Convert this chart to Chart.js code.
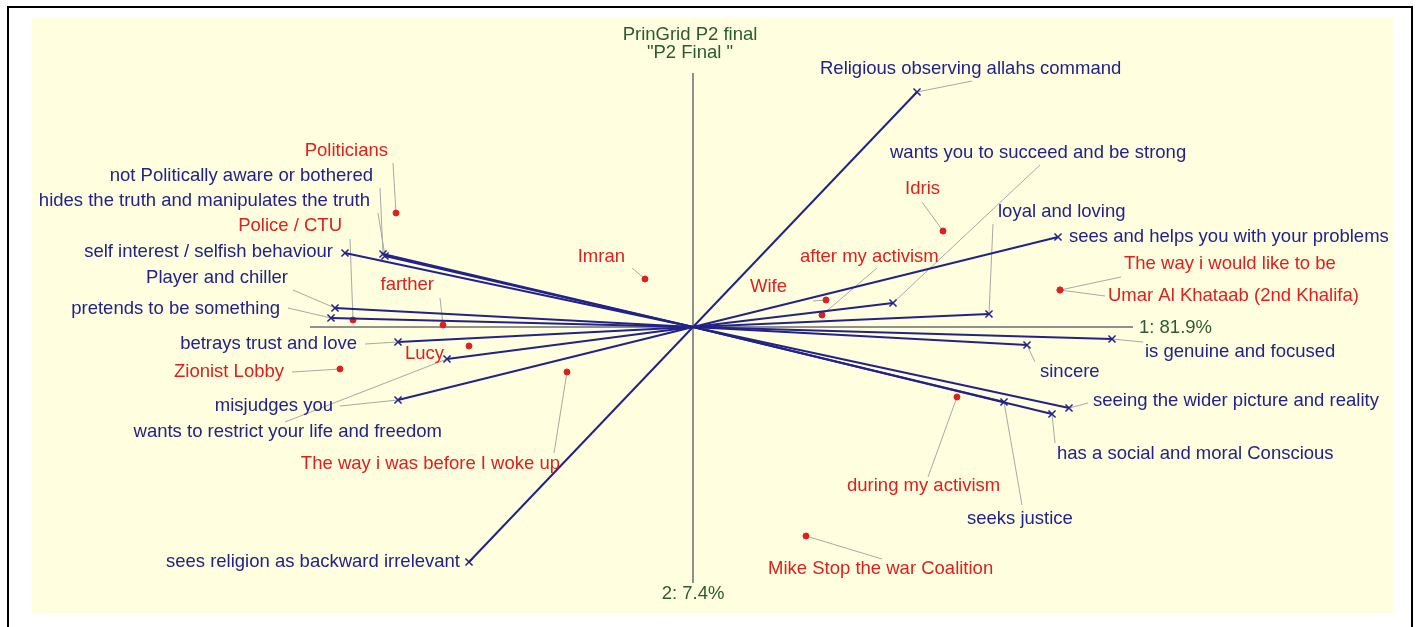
<!DOCTYPE html>
<html>
<head>
<meta charset="utf-8">
<script src="https://cdn.jsdelivr.net/npm/chart.js@4.4.1/dist/chart.umd.min.js"></script>
<style>
    html, body { margin: 0; padding: 0; background: #ffffff; }
    #wrap { width: 1421px; height: 627px; }
</style>
</head>
<body>
<div id="wrap"><canvas id="pringrid" width="1421" height="627"></canvas></div>
<script>
// construct poles (component 1, component 2 scores)
const leftPoles = ['sees religion as backward irrelevant', 'misjudges you', 'wants to restrict your life and freedom',
    'betrays trust and love', 'pretends to be something', 'Player and chiller',
    'not Politically aware or bothered', 'hides the truth and manipulates the truth', 'self interest / selfish behaviour'];
const leftX = [-2.24, -2.95, -2.46, -2.95, -3.62, -3.58, -3.10, -3.08, -3.48];
const leftY = [-2.35, -0.73, -0.32, -0.15, 0.09, 0.19, 0.73, 0.71, 0.74];

const rightPoles = ['Religious observing allahs command', 'sees and helps you with your problems', 'wants you to succeed and be strong',
    'loyal and loving', 'is genuine and focused', 'sincere',
    'seeing the wider picture and reality', 'has a social and moral Conscious', 'seeks justice'];
const rightX = [2.24, 3.65, 2.00, 2.96, 4.19, 3.34, 3.76, 3.59, 3.11];
const rightY = [2.35, 0.90, 0.24, 0.13, -0.12, -0.18, -0.81, -0.87, -0.75];

// elements
const elements = ['Politicians', 'Police / CTU', 'farther', 'Lucy', 'Zionist Lobby', 'Imran',
    'The way i was before I woke up', 'Wife', 'after my activism', 'Idris',
    'The way i would like to be', 'Umar Al Khataab (2nd Khalifa)', 'during my activism', 'Mike Stop the war Coalition'];
const elemX = [-2.97, -3.40, -2.50, -2.24, -3.53, -0.48, -1.26, 1.33, 1.29, 2.50, 3.67, 3.67, 2.64, 1.13];
const elemY = [1.14, 0.07, 0.02, -0.19, -0.42, 0.48, -0.45, 0.27, 0.12, 0.96, 0.37, 0.37, -0.70, -2.09];

// axes
const axisLabels = ['1: 81.9%', '2: 7.4%'];
const titleLines = ['PrinGrid P2 final', '"P2 Final "'];

// label placement: [text dx, text dy, align, leader dx, leader dy] in px from the point
const labelLayout = {
    'Religious observing allahs command': [-97, -25, 'left', 55, -11],
    'sees and helps you with your problems': [11, -2, 'left', null],
    'wants you to succeed and be strong': [-3, -152, 'left', 147, -138],
    'loyal and loving': [9, -104, 'left', 4, -90],
    'is genuine and focused': [33, 11, 'left', 31, 3],
    'sincere': [13, 25, 'left', 8, 17],
    'seeing the wider picture and reality': [24, -9, 'left', 19, -5],
    'has a social and moral Conscious': [5, 38, 'left', 3, 29],
    'seeks justice': [-37, 115, 'left', 18, 103],
    'sees religion as backward irrelevant': [-9, -2, 'right', null],
    'misjudges you': [-65, 4, 'right', -58, 6],
    'wants to restrict your life and freedom': [-5, 71, 'right', -162, 63],
    'betrays trust and love': [-41, 0, 'right', -33, 2],
    'pretends to be something': [-51, -11, 'right', -43, -10],
    'Player and chiller': [-47, -32, 'right', -42, -18],
    'not Politically aware or bothered': [-10, -80, 'right', -3, -66],
    'hides the truth and manipulates the truth': [-15, -57, 'right', -7, -43],
    'self interest / selfish behaviour': [-12, -3, 'right', null],
    'Politicians': [-8, -64, 'right', -3, -50],
    'Police / CTU': [-11, -96, 'right', -3, -81],
    'farther': [-9, -42, 'right', -3, -27],
    'Lucy': [-25, 6, 'right', null],
    'Zionist Lobby': [-56, 1, 'right', -48, 3],
    'Imran': [-20, -24, 'right', -13, -11],
    'The way i was before I woke up': [-7, 90, 'right', -13, 81],
    'Wife': [-39, -15, 'right', -13, 1],
    'after my activism': [-22, -60, 'left', 55, -47],
    'Idris': [-3, -44, 'right', -21, -29],
    'The way i would like to be': [64, -28, 'left', 61, -13],
    'Umar Al Khataab (2nd Khalifa)': [48, 4, 'left', 45, 6],
    'during my activism': [-110, 87, 'left', -29, 80],
    'Mike Stop the war Coalition': [-38, 31, 'left', 76, 23]
};

const NAVY = '#22228a';
const RED = '#dd2020';
const FONT = '18.5px "Liberation Sans", Arial, sans-serif';

let datasets = [];
for (let i = 0; i < leftPoles.length; i++) {
    datasets.push({
        label: leftPoles[i] + ' - ' + rightPoles[i],
        data: [{x: leftX[i], y: leftY[i]}, {x: 0, y: 0}, {x: rightX[i], y: rightY[i]}],
        showLine: true,
        borderColor: NAVY,
        borderWidth: 2,
        pointStyle: 'crossRot',
        pointRadius: [5, 0, 5],
        pointBorderColor: NAVY,
        pointBorderWidth: 1.5
    });
}
datasets.push({
    label: 'elements',
    data: elements.map((e, i) => ({x: elemX[i], y: elemY[i]})),
    pointStyle: 'circle',
    pointRadius: 3,
    backgroundColor: RED,
    borderColor: RED
});

const gridPlugin = {
    id: 'pringrid',
    beforeDraw(chart) {
        const c = chart.ctx, a = chart.chartArea;
        c.save();
        c.fillStyle = '#ffffff';
        c.fillRect(0, 0, chart.width, chart.height);
        c.strokeStyle = '#000000';
        c.lineWidth = 2;
        c.strokeRect(8, 7, 1404, 700);
        c.fillStyle = '#ffffdf';
        c.fillRect(a.left, a.top, a.right - a.left, a.bottom - a.top);
        c.restore();
    },
    beforeDatasetsDraw(chart) {
        const c = chart.ctx, sx = chart.scales.x, sy = chart.scales.y;
        c.save();
        // axes
        c.strokeStyle = '#909090';
        c.lineWidth = 2;
        c.beginPath();
        c.moveTo(sx.getPixelForValue(-3.83), sy.getPixelForValue(0));
        c.lineTo(sx.getPixelForValue(4.40), sy.getPixelForValue(0));
        c.moveTo(sx.getPixelForValue(0), sy.getPixelForValue(2.54));
        c.lineTo(sx.getPixelForValue(0), sy.getPixelForValue(-2.56));
        c.stroke();
        // leader lines
        c.strokeStyle = '#a8a8a8';
        c.lineWidth = 1;
        const leader = (name, px, py) => {
            const l = labelLayout[name];
            if (!l || l[3] === null) return;
            c.beginPath();
            c.moveTo(px, py);
            c.lineTo(px + l[3], py + l[4]);
            c.stroke();
        };
        leftPoles.forEach((n, i) => leader(n, sx.getPixelForValue(leftX[i]), sy.getPixelForValue(leftY[i])));
        rightPoles.forEach((n, i) => leader(n, sx.getPixelForValue(rightX[i]), sy.getPixelForValue(rightY[i])));
        elements.forEach((n, i) => leader(n, sx.getPixelForValue(elemX[i]), sy.getPixelForValue(elemY[i])));
        c.restore();
    },
    afterDatasetsDraw(chart) {
        const c = chart.ctx, sx = chart.scales.x, sy = chart.scales.y;
        c.save();
        c.font = FONT;
        c.textBaseline = 'middle';
        const text = (name, px, py, color) => {
            const l = labelLayout[name];
            c.fillStyle = color;
            c.textAlign = l[2];
            c.fillText(name, px + l[0], py + l[1] + 1.5);
        };
        leftPoles.forEach((n, i) => text(n, sx.getPixelForValue(leftX[i]), sy.getPixelForValue(leftY[i]), NAVY));
        rightPoles.forEach((n, i) => text(n, sx.getPixelForValue(rightX[i]), sy.getPixelForValue(rightY[i]), NAVY));
        elements.forEach((n, i) => text(n, sx.getPixelForValue(elemX[i]), sy.getPixelForValue(elemY[i]), RED));

        // axis labels and title
        const ox = sx.getPixelForValue(0), oy = sy.getPixelForValue(0);
        c.fillStyle = '#2a5a32';
        c.textAlign = 'left';
        c.fillText(axisLabels[0], sx.getPixelForValue(4.40) + 6, oy + 1);
        c.textAlign = 'center';
        c.fillText(axisLabels[1], ox, sy.getPixelForValue(-2.56) + 11);
        c.fillText(titleLines[0], ox - 3, 35);
        c.fillText(titleLines[1], ox - 3, 53);
        c.restore();
    }
};

new Chart(document.getElementById('pringrid'), {
    type: 'scatter',
    data: { datasets: datasets },
    plugins: [gridPlugin],
    options: {
        responsive: false,
        animation: false,
        devicePixelRatio: 1,
        layout: {
            padding: { left: 32, right: 28, top: 18, bottom: 14 }
        },
        plugins: {
            legend: { display: false },
            tooltip: { enabled: false }
        },
        scales: {
            x: { type: 'linear', min: -6.61, max: 7.00, display: false },
            y: { type: 'linear', min: -2.86, max: 3.09, display: false }
        }
    }
});
</script>
</body>
</html>
